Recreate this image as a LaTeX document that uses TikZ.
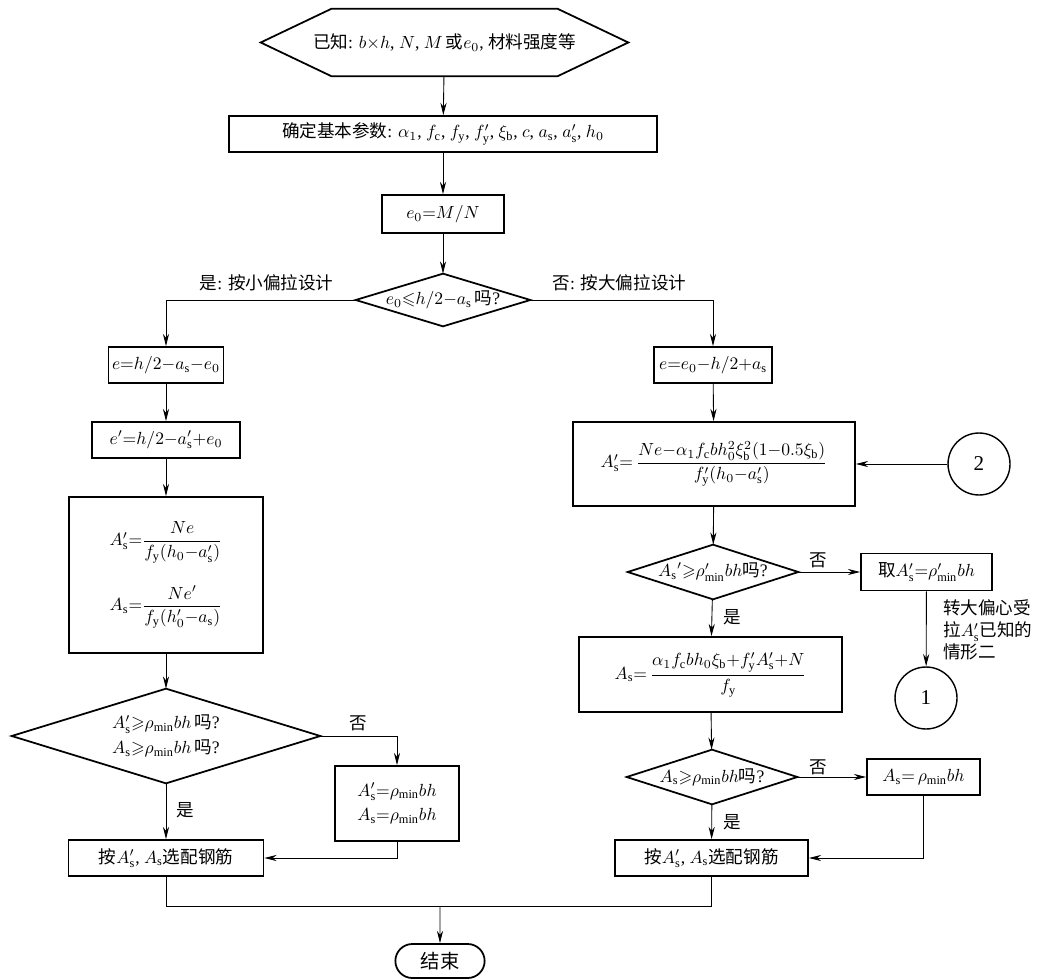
\documentclass[tikz,border=0pt]{standalone}
\usepackage{amsmath}
\usepackage{amssymb}
\usepackage{fontspec}
\setmainfont{Liberation Serif}
\newfontfamily\cjk{Noto Sans CJK SC}
\usetikzlibrary{arrows.meta,shapes.misc}

\tikzset{
  box/.style={draw, line width=1pt, rectangle, inner sep=2pt, align=center},
  decision/.style={rectangle, inner sep=0pt, align=center},
  joint/.style={draw, circle, line width=0.8pt, minimum size=1.24cm, inner sep=0pt, font=\fontsize{12}{14}\selectfont},
  arr/.style={-{Stealth[length=7pt,width=3.5pt]}, line width=0.5pt},
  link/.style={line width=0.5pt},
  frame/.style={line width=1pt, line join=miter},
}

\begin{document}
\begin{tikzpicture}[x=0.02cm, y=-0.02cm, font=\fontsize{10}{12}\selectfont]
  \useasboundingbox (0,0) rectangle (1043,979);
  % main column
  \node[decision, minimum width=7.34cm, minimum height=1.34cm] (start) at (444.5,42.5)
    {{\cjk 已知}: $b{\times}h$, $N$, $M$\,{\cjk 或}$e_0$, {\cjk 材料强度等}};
  \node[box, minimum width=8.56cm, minimum height=0.72cm] (param) at (443,134)
    {{\cjk 确定基本参数}: $\alpha_1$, $f_\mathrm{c}$, $f_\mathrm{y}$, $f'_\mathrm{y}$, $\xi_\mathrm{b}$, $c$, $a_\mathrm{s}$, $a'_\mathrm{s}$, $h_0$};
  \node[box, minimum width=2.44cm, minimum height=0.76cm] (ecc) at (443,214) {$e_0{=}M/N$};
  \node[decision, minimum width=3.48cm, minimum height=1.04cm] (d1) at (443,300)
    {$e_0{\leqslant}h/2{-}a_\mathrm{s}$\,{\cjk 吗}?};
  \node[anchor=south east] (yes0) at ([shift={(-16,-3)}]d1.west) {{\cjk 是}: {\cjk 按小偏拉设计}};
  \node[anchor=south west] (no0) at ([shift={(16,-3)}]d1.east) {{\cjk 否}: {\cjk 按大偏拉设计}};
  % small eccentricity
  \node[box, minimum width=2.24cm, minimum height=0.72cm] (e1) at (166,365) {$e{=}h/2{-}a_\mathrm{s}{-}e_0$};
  \node[box, minimum width=2.96cm, minimum height=0.72cm] (e2) at (166,440) {$e'{=}h/2{-}a'_\mathrm{s}{+}e_0$};
  \node[box, minimum width=3.88cm, minimum height=3.12cm] (big1) at (166,575)
    {$A'_\mathrm{s}{=}\dfrac{Ne}{f_\mathrm{y}(h_0{-}a'_\mathrm{s})}$\\[12pt]
     $A_\mathrm{s}{=}\dfrac{Ne'}{f_\mathrm{y}(h'_0{-}a_\mathrm{s})}$};
  \node[decision, minimum width=6.16cm, minimum height=1.88cm] (d2) at (166,736)
    {$A'_\mathrm{s}{\geqslant}\rho_\mathrm{min}bh$\,{\cjk 吗}?\\[2pt]$A_\mathrm{s}{\geqslant}\rho_\mathrm{min}bh$\,{\cjk 吗}?};
  \node[box, minimum width=2.48cm, minimum height=1.5cm] (min1) at (397,803.5)
    {$A'_\mathrm{s}{=}\rho_\mathrm{min}bh$\\[2pt]$A_\mathrm{s}{=}\rho_\mathrm{min}bh$};
  \node[box, minimum width=3.9cm, minimum height=0.72cm] (fin1) at (166,858)
    {{\cjk 按}$A'_\mathrm{s}$, $A_\mathrm{s}${\cjk 选配钢筋}};
  \node (no2) at (358,723) {\cjk 否};
  \node (yes2) at (185,810) {\cjk 是};
  % large eccentricity
  \node[box, minimum width=2.36cm, minimum height=0.72cm] (e3) at (713,365) {$e{=}e_0{-}h/2{+}a_\mathrm{s}$};
  \node[box, minimum width=5.64cm, minimum height=1.68cm] (big2) at (714,464)
    {$A'_\mathrm{s}{=}\,\dfrac{Ne{-}\alpha_1f_\mathrm{c}bh_0^2\xi_\mathrm{b}^2(1{-}0.5\xi_\mathrm{b})}{f'_\mathrm{y}(h_0{-}a'_\mathrm{s})}$};
  \node[joint] (c2) at (979,464) {2};
  \node[decision, minimum width=3.4cm, minimum height=1.08cm] (d3) at (713,572)
    {${A_\mathrm{s}}'{\geqslant}\rho'_\mathrm{min}bh${\cjk 吗}?};
  \node[box, minimum width=2.62cm, minimum height=0.74cm] (take) at (926.5,572)
    {{\cjk 取}$A'_\mathrm{s}{=}\rho'_\mathrm{min}bh$};
  \node[joint] (c1) at (926,698) {1};
  \node[anchor=west, align=left, font=\fontsize{10}{12.5}\selectfont] (note) at (937,630)
    {{\cjk 转大偏心受}\\{\cjk 拉}$A'_\mathrm{s}${\cjk 已知的}\\{\cjk 情形二}};
  \node[box, minimum width=5.26cm, minimum height=1.5cm] (big3) at (710.5,674.5)
    {$A_\mathrm{s}{=}\,\dfrac{\alpha_1f_\mathrm{c}bh_0\xi_\mathrm{b}{+}f'_\mathrm{y}A'_\mathrm{s}{+}N}{f_\mathrm{y}}$};
  \node[decision, minimum width=3.4cm, minimum height=1.08cm] (d4) at (712,777)
    {$A_\mathrm{s}{\geqslant}\rho_\mathrm{min}bh${\cjk 吗}?};
  \node[box, minimum width=2.26cm, minimum height=0.72cm] (min2) at (923.5,777)
    {$A_\mathrm{s}{=}\,\rho_\mathrm{min}bh$};
  \node[box, minimum width=3.86cm, minimum height=0.72cm] (fin2) at (711.5,858)
    {{\cjk 按}$A'_\mathrm{s}$, $A_\mathrm{s}${\cjk 选配钢筋}};
  \node (no3) at (818,560) {\cjk 否};
  \node (yes3) at (732,617) {\cjk 是};
  \node (no4) at (818,767) {\cjk 否};
  \node (yes4) at (732,822) {\cjk 是};
  % end
  \node[draw, rounded rectangle, line width=1pt, minimum width=2.02cm, minimum height=0.68cm,
        font=\fontsize{11}{13}\selectfont] (end) at (440,961) {\cjk 结束};
  \coordinate (join) at (440,906);

  % outlines
  \draw[frame] (start.west) -- ([xshift=1.42cm]start.north west) -- ([xshift=-1.42cm]start.north east)
    -- (start.east) -- ([xshift=-1.42cm]start.south east) -- ([xshift=1.42cm]start.south west) -- cycle;
  \foreach \d in {d1,d2,d3,d4}
    \draw[frame] (\d.west) -- (\d.north) -- (\d.east) -- (\d.south) -- cycle;

  % connectors
  \draw[arr] (start) -- (param);
  \draw[arr] (param) -- (ecc);
  \draw[arr] (ecc) -- (d1);
  \draw[arr] (d1.west) -| (e1);
  \draw[arr] (d1.east) -| (e3);
  \draw[arr] (e1) -- (e2);
  \draw[arr] (e2) -- (big1);
  \draw[arr] (big1) -- (d2);
  \draw[arr] (d2.east) -| (min1);
  \draw[arr] (d2) -- (fin1);
  \draw[arr] (min1.south) |- (fin1.east);
  \draw[arr] (e3) -- (big2);
  \draw[arr] (c2) -- (big2);
  \draw[arr] (big2) -- (d3);
  \draw[arr] (d3.east) -- (take);
  \draw[arr] (take) -- (c1);
  \draw[arr] (d3) -- (big3);
  \draw[arr] (big3) -- (d4);
  \draw[arr] (d4.east) -- (min2);
  \draw[arr] (d4) -- (fin2);
  \draw[arr] (min2.south) |- (fin2.east);
  \draw[link] (fin1.south) |- (join) -| (fin2.south);
  \draw[arr] (join) -- (end);
\end{tikzpicture}
\end{document}
